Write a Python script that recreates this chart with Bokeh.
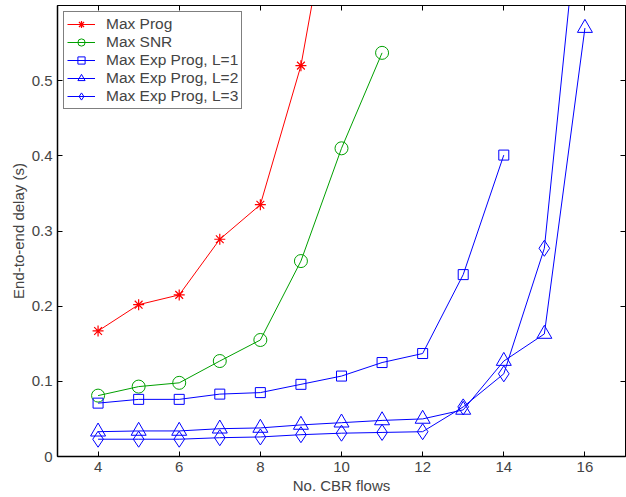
from bokeh.plotting import figure
from bokeh.models import LinearAxis, FixedTicker, Legend, LegendItem, Range1d
from bokeh.embed import file_html
from bokeh.resources import INLINE

x_prog = [4, 5, 6, 7, 8, 9, 10]
y_prog = [0.167, 0.202, 0.215, 0.289, 0.335, 0.520, 0.82]
x_snr = [4, 5, 6, 7, 8, 9, 10, 11]
y_snr = [0.081, 0.093, 0.098, 0.127, 0.155, 0.260, 0.410, 0.537]
x_l1 = [4, 5, 6, 7, 8, 9, 10, 11, 12, 13, 14]
y_l1 = [0.071, 0.076, 0.076, 0.083, 0.085, 0.096, 0.107, 0.125, 0.137, 0.242, 0.401]
x_l2 = [4, 5, 6, 7, 8, 9, 10, 11, 12, 13, 14, 15, 16]
y_l2 = [0.033, 0.034, 0.034, 0.037, 0.038, 0.042, 0.045, 0.048, 0.050, 0.062, 0.127, 0.163, 0.570]
x_l3 = [4, 5, 6, 7, 8, 9, 10, 11, 12, 13, 14, 15, 16]
y_l3 = [0.023, 0.023, 0.023, 0.025, 0.026, 0.029, 0.031, 0.032, 0.033, 0.066, 0.110, 0.277, 0.81]
x_ticks = [4, 6, 8, 10, 12, 14, 16]
y_ticks = [0, 0.1, 0.2, 0.3, 0.4, 0.5]

FONT = "Liberation Sans"

p = figure(width=626, height=497, output_backend="svg", toolbar_location=None,
           x_range=Range1d(3, 17), y_range=Range1d(0, 0.6),
           min_border_left=57, min_border_right=1, min_border_top=5, min_border_bottom=41)
p.grid.visible = False
p.outline_line_color = "black"
p.outline_line_width = 1
p.background_fill_color = "white"
p.border_fill_color = "white"

p.xaxis.ticker = FixedTicker(ticks=x_ticks)
p.yaxis.ticker = FixedTicker(ticks=y_ticks)
p.xaxis.axis_label = "No. CBR flows"
p.yaxis.axis_label = "End-to-end delay (s)"
for ax in [p.xaxis[0], p.yaxis[0]]:
    ax.major_tick_in = 5
    ax.major_tick_out = 0
    ax.minor_tick_in = 0
    ax.minor_tick_out = 0
    ax.major_label_text_font = FONT
    ax.major_label_text_font_size = "15px"
    ax.axis_label_text_font = FONT
    ax.axis_label_text_font_size = "15px"
    ax.axis_label_text_font_style = "normal"
    ax.axis_line_width = 1.5
    ax.axis_label_standoff = 2
    ax.major_label_standoff = 5

top = LinearAxis(ticker=FixedTicker(ticks=x_ticks), major_label_overrides={t: "" for t in x_ticks},
                 major_tick_in=5, major_tick_out=0, minor_tick_in=0, minor_tick_out=0,
                 major_label_standoff=0)
right = LinearAxis(ticker=FixedTicker(ticks=y_ticks), major_label_overrides={t: "" for t in y_ticks},
                   major_tick_in=5, major_tick_out=0, minor_tick_in=0, minor_tick_out=0,
                   major_label_standoff=0)
p.add_layout(top, "above")
p.add_layout(right, "right")

RED = "#ff0000"
GREEN = "#00a000"
BLUE = "#0000ff"

r1l = p.line(x_prog, y_prog, line_color=RED, line_width=1)
r1m = p.scatter(x_prog, y_prog, marker="asterisk", size=11, line_color=RED, fill_color=None, line_width=1.2)
r2l = p.line(x_snr, y_snr, line_color=GREEN, line_width=1)
r2m = p.scatter(x_snr, y_snr, marker="circle", size=13, line_color=GREEN, fill_color=None, line_width=1)
r3l = p.line(x_l1, y_l1, line_color=BLUE, line_width=1)
r3m = p.scatter(x_l1, y_l1, marker="square", size=10, line_color=BLUE, fill_color=None, line_width=1)
r4l = p.line(x_l2, y_l2, line_color=BLUE, line_width=1)
r4m = p.scatter(x_l2, y_l2, marker="triangle", size=15, line_color=BLUE, fill_color=None, line_width=1)
r5l = p.line(x_l3, y_l3, line_color=BLUE, line_width=1)
r5m = p.scatter(x_l3, y_l3, marker="diamond", size=16, line_color=BLUE, fill_color=None, line_width=1)

legend = Legend(items=[
    LegendItem(label="Max Prog", renderers=[r1l, r1m]),
    LegendItem(label="Max SNR", renderers=[r2l, r2m]),
    LegendItem(label="Max Exp Prog, L=1", renderers=[r3l, r3m]),
    LegendItem(label="Max Exp Prog, L=2", renderers=[r4l, r4m]),
    LegendItem(label="Max Exp Prog, L=3", renderers=[r5l, r5m]),
], location="top_left")
legend.label_text_font = FONT
legend.label_text_font_size = "15.5px"
legend.label_height = 18
legend.glyph_height = 18
legend.glyph_width = 28
legend.spacing = 0
legend.padding = 3
legend.margin = 6
legend.label_standoff = 11
legend.border_line_color = "black"
legend.border_line_width = 1.5
legend.background_fill_alpha = 1
p.add_layout(legend)

open("out.html", "w").write(file_html(p, INLINE))
